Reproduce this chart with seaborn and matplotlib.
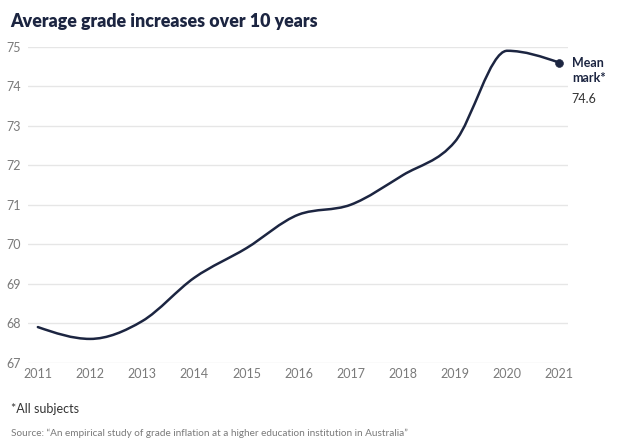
import numpy as np
import matplotlib
matplotlib.use("Agg")
import matplotlib.pyplot as plt
from matplotlib.path import Path
from matplotlib.patches import PathPatch
import seaborn as sns

# data
years = [2011, 2012, 2013, 2014, 2015, 2016, 2017, 2018, 2019, 2020, 2021]
mean_mark = [67.9, 67.6, 68.05, 69.15, 69.9, 70.75, 71.0, 71.75, 72.6, 74.9, 74.6]
y_ticks = [67, 68, 69, 70, 71, 72, 73, 74, 75]

NAVY = "#1c2541"
GREY = "#7a7a7a"


def monotone_path(x, y):
    # monotone cubic curve through the points, as bezier segments
    x = np.asarray(x, float)
    y = np.asarray(y, float)
    h = np.diff(x)
    s = np.diff(y) / h
    t = np.zeros(len(x))
    for i in range(1, len(x) - 1):
        p = (s[i - 1] * h[i] + s[i] * h[i - 1]) / (h[i - 1] + h[i])
        t[i] = (np.sign(s[i - 1]) + np.sign(s[i])) * min(abs(s[i - 1]), abs(s[i]), 0.5 * abs(p))
    t[0] = (3 * s[0] - t[1]) / 2
    t[-1] = (3 * s[-1] - t[-2]) / 2
    verts = [(x[0], y[0])]
    codes = [Path.MOVETO]
    for i in range(len(x) - 1):
        dx = h[i] / 3
        verts += [(x[i] + dx, y[i] + dx * t[i]),
                  (x[i + 1] - dx, y[i + 1] - dx * t[i + 1]),
                  (x[i + 1], y[i + 1])]
        codes += [Path.CURVE4] * 3
    return Path(verts, codes)


sns.set_theme(style="white")
plt.rcParams["font.family"] = ["Lato", "DejaVu Sans"]

fig = plt.figure(figsize=(6.21, 4.46), dpi=100)
ax = fig.add_axes([0.045, 0.187, 0.870, 0.708])

ax.add_patch(PathPatch(monotone_path(years, mean_mark), facecolor="none",
                       edgecolor=NAVY, lw=1.8, capstyle="round"))
sns.scatterplot(x=years[-1:], y=mean_mark[-1:], ax=ax, color=NAVY, s=32,
                edgecolor=NAVY, zorder=5)

ax.set_xlim(2010.81, 2021.17)
ax.set_ylim(67, 75)
ax.set_xticks(years)
ax.set_yticks(y_ticks)
ax.set_xticklabels([str(y) for y in years])
ax.set_yticklabels([str(v) for v in y_ticks])
ax.tick_params(axis="both", length=0, labelsize=9, labelcolor=GREY)
ax.tick_params(axis="x", pad=4)
ax.tick_params(axis="y", pad=5)
ax.grid(axis="y", color="#e6e6e6", lw=1)
ax.set_axisbelow(True)
for sp in ax.spines.values():
    sp.set_visible(False)
ax.set_xlabel("")
ax.set_ylabel("")

ax.annotate("Mean\nmark*", xy=(years[-1], mean_mark[-1]), xytext=(9, 4),
            textcoords="offset points", ha="left", va="top", fontsize=9,
            fontweight="bold", color=NAVY, linespacing=1.3)
ax.annotate(f"{mean_mark[-1]}", xy=(years[-1], mean_mark[-1]), xytext=(9, -22),
            textcoords="offset points", ha="left", va="top", fontsize=9,
            color="#333333")

fig.text(0.016, 0.952, "Average grade increases over 10 years", fontsize=12.8,
         fontweight="heavy", color=NAVY, ha="left", va="center")
fig.text(0.018, 0.083, "*All subjects", fontsize=9, color="#333333",
         ha="left", va="center")
fig.text(0.018, 0.029,
         "Source: \u201cAn empirical study of grade inflation at a higher education institution in Australia\u201d",
         fontsize=7.2, color=GREY, ha="left", va="center")

fig.savefig("out.png", dpi=100)
